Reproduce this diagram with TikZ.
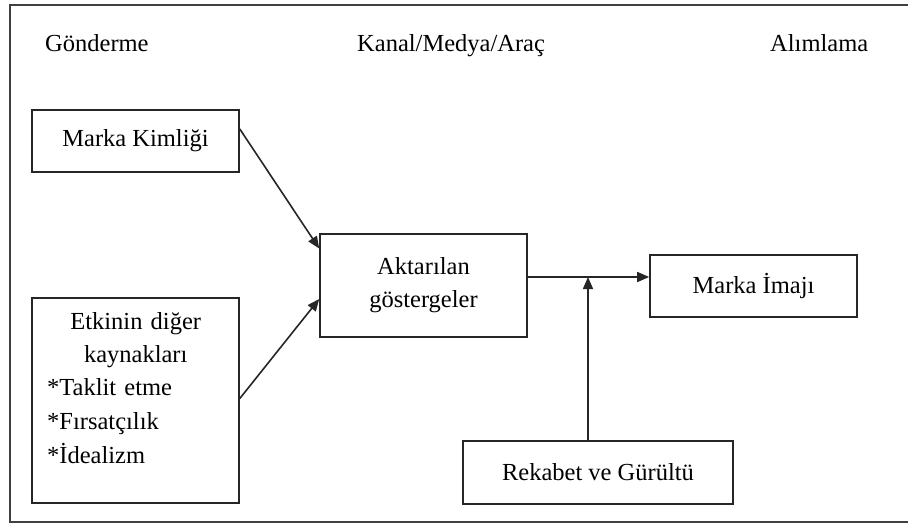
\documentclass[tikz,border=0pt]{standalone}
\usepackage{fontspec}
\setmainfont{Liberation Serif}
\usetikzlibrary{arrows.meta,calc}
\begin{document}
\begin{tikzpicture}[x=1pt,y=-1pt,
  every node/.style={font=\fontsize{24.5}{33}\selectfont, text=black},
  box/.style={draw=black!85, line width=1.6pt, rectangle, inner sep=0pt},
  frame/.style={draw=black!75, line width=2.2pt},
  arr/.style={draw=black!85, line width=1.6pt, -{Triangle[length=12pt,width=10pt]}},
  head/.style={anchor=base west, inner sep=0pt}]
\useasboundingbox (0,0) rectangle (908,525);
\clip (0,0) rectangle (908,525);
\fill[white] (0,0) rectangle (908,525);
% outer frame, running past the right edge
\draw[frame] (10,5) rectangle (930,522);

% column headings
\node[head] (h1) at (45,51) {Gönderme};
\node[head] (h2) at (357,51) {Kanal/Medya/Araç};
\node[head] (h3) at (770,51) {Alımlama};

% boxes
\node[box, minimum width=207pt, minimum height=62pt] (mk) at (135.5,141) {Marka Kimliği};
\node[box, minimum width=207pt, minimum height=205pt] (et) at (135.5,400.5) {};
\node[anchor=north west, inner sep=0pt, text width=177pt] (etx) at (47,312)
  {{\centering Etkinin diğer\\ kaynakları\par}
   {*}Taklit etme\\[1pt] {*}Fırsatçılık\\[1pt] {*}İdealizm};
\node[box, minimum width=207pt, minimum height=103pt, align=center] (ak) at (423.5,285.5)
  {Aktarılan\\ göstergeler};
\node[box, minimum width=207pt, minimum height=62pt] (mi) at (753.5,286) {Marka İmajı};
\node[box, minimum width=270pt, minimum height=63pt] (rg) at (598,472.5) {Rekabet ve Gürültü};

% connectors
\coordinate (j) at (588,277);
\draw[arr] ($(mk.east)+(0,-12)$) -- ($(ak.west)+(0,-37)$);
\draw[arr] ($(et.east)+(0,-2)$) -- ($(ak.west)+(0,13.5)$);
\draw[arr] (ak.east |- j) -- (mi.west |- j);
\draw[arr] (rg.north -| j) -- (j);
\end{tikzpicture}
\end{document}
